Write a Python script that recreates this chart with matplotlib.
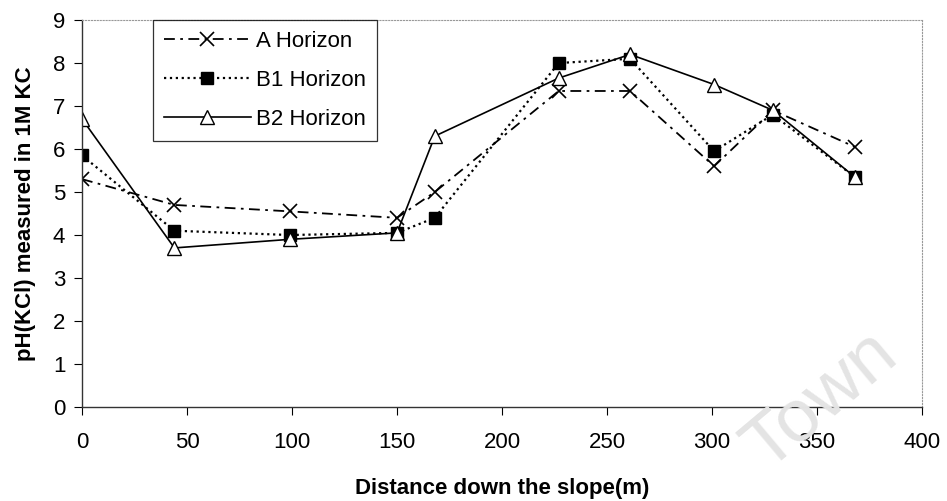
import matplotlib.pyplot as plt

# distance down the slope (m)
distance = [0, 44, 99, 150, 168, 227, 261, 301, 329, 368]

# pH(KCl) per horizon
ph_a = [5.3, 4.7, 4.55, 4.4, 5.0, 7.35, 7.35, 5.6, 6.9, 6.05]
ph_b1 = [5.85, 4.1, 4.0, 4.05, 4.4, 8.0, 8.1, 5.95, 6.8, 5.35]
ph_b2 = [6.7, 3.7, 3.9, 4.05, 6.3, 7.65, 8.2, 7.5, 6.9, 5.35]

x_ticks = [0, 50, 100, 150, 200, 250, 300, 350, 400]
y_ticks = [0, 1, 2, 3, 4, 5, 6, 7, 8, 9]

plt.rcParams['font.family'] = ['Liberation Sans', 'DejaVu Sans']

fig = plt.figure(figsize=(9.47, 5.01), dpi=100)
ax = fig.add_axes([0.0866, 0.1876, 0.887, 0.7724])

ax.plot(distance, ph_a, linestyle=(0, (6, 3, 1.5, 3)), color='black', linewidth=1.3,
        marker='x', markersize=10, markeredgewidth=1.2, label='A Horizon')
ax.plot(distance, ph_b1, linestyle=':', color='black', linewidth=1.6,
        marker='s', markersize=8, markerfacecolor='black', label='B1 Horizon')
ax.plot(distance, ph_b2, linestyle='-', color='black', linewidth=1.2,
        marker='^', markersize=10, markerfacecolor='white', markeredgewidth=1.0,
        label='B2 Horizon')

ax.set_xlim(0, 400)
ax.set_ylim(0, 9)
ax.set_xticks(x_ticks)
ax.set_yticks(y_ticks)
ax.tick_params(axis='both', labelsize=16, direction='out', length=6, width=0.8,
               colors='black')
ax.tick_params(axis='x', pad=12)
ax.tick_params(axis='y', pad=6)

for side in ['top', 'right']:
    ax.spines[side].set_linestyle(':')
    ax.spines[side].set_color('#999999')
    ax.spines[side].set_linewidth(0.8)
for side in ['left', 'bottom']:
    ax.spines[side].set_color('#333333')
    ax.spines[side].set_linewidth(1.0)

ax.set_xlabel('Distance down the slope(m)', fontsize=16, fontweight='bold', labelpad=18)
ax.set_ylabel('pH(KCl) measured in 1M KC', fontsize=16, fontweight='bold', labelpad=12)

leg = ax.legend(loc='upper left', bbox_to_anchor=(0.0845, 1.0), borderaxespad=0,
                fontsize=16, frameon=True, fancybox=False, edgecolor='black',
                handlelength=3.9, borderpad=0.5, labelspacing=0.8,
                handletextpad=0.25)
leg.get_frame().set_linewidth(0.9)

# faint scanned watermark
fig.text(0.866, 0.2, 'Town', fontsize=54, color='#e4e4e4', rotation=40,
         ha='center', va='center', zorder=0)

fig.savefig('out.png', dpi=100)
